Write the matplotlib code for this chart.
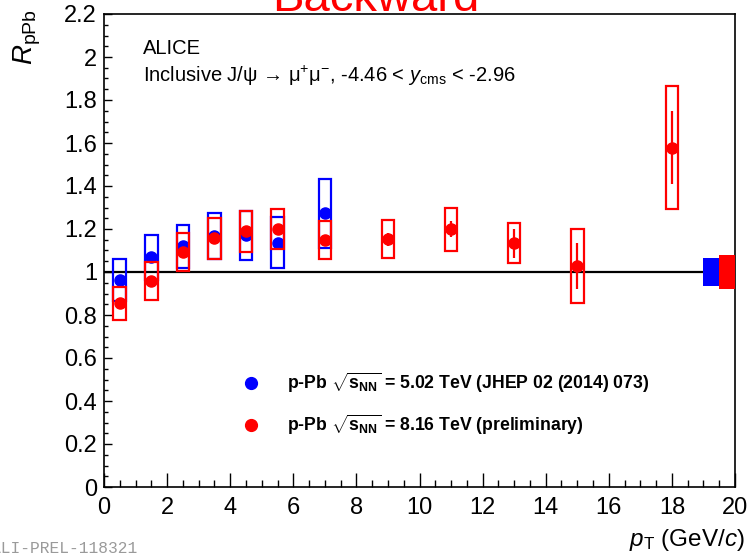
import numpy as np
import matplotlib
matplotlib.use('Agg')
import matplotlib.pyplot as plt
from matplotlib.patches import Rectangle
from matplotlib.ticker import MultipleLocator, FuncFormatter

plt.rcParams['font.family'] = ['Liberation Sans', 'DejaVu Sans']
plt.rcParams['mathtext.fontset'] = 'custom'
plt.rcParams['mathtext.rm'] = 'Liberation Sans'
plt.rcParams['mathtext.it'] = 'Liberation Sans:italic'
plt.rcParams['mathtext.bf'] = 'Liberation Sans:bold'

# p-Pb 5.02 TeV (JHEP 02 (2014) 073)
pt_502 = [0.5, 1.5, 2.5, 3.5, 4.5, 5.5, 7.0]
r_502 = [0.963, 1.068, 1.120, 1.167, 1.170, 1.137, 1.273]
stat_502 = [0.015, 0.02, 0.015, 0.015, 0.015, 0.02, 0.02]
sys_502 = [0.096, 0.103, 0.100, 0.107, 0.115, 0.120, 0.160]

# p-Pb 8.16 TeV (preliminary)
pt_816 = [0.5, 1.5, 2.5, 3.5, 4.5, 5.5, 7.0, 9.0, 11.0, 13.0, 15.0, 18.0]
r_816 = [0.854, 0.958, 1.094, 1.156, 1.190, 1.200, 1.149, 1.153, 1.200, 1.133, 1.029, 1.578]
stat_816 = [0.01, 0.015, 0.015, 0.015, 0.02, 0.02, 0.02, 0.03, 0.036, 0.067, 0.106, 0.17]
sys_816 = [0.076, 0.087, 0.088, 0.096, 0.095, 0.092, 0.087, 0.089, 0.100, 0.093, 0.172, 0.285]

# global uncertainties
glob_502 = 0.064
glob_816 = 0.08

box_half = 0.2
blue = '#0000ff'
red = '#ff0000'

fig = plt.figure(figsize=(7.51, 5.58), dpi=100)
ax = fig.add_axes([104 / 751, 1 - 487 / 558, 631 / 751, 473 / 558])

# unity line
ax.plot([0, 19], [1, 1], color='black', lw=1.6, zorder=2)


def draw_set(pt, r, stat, sys, color, z):
    for x, y, s in zip(pt, r, sys):
        ax.add_patch(Rectangle((x - box_half, y - s), 2 * box_half, 2 * s,
                               fill=False, edgecolor=color, lw=1.6, zorder=z))
    ax.errorbar(pt, r, yerr=stat, fmt='o', color=color, ms=8, lw=1.6,
                capsize=0, zorder=z + 1)


draw_set(pt_502, r_502, stat_502, sys_502, blue, 3)
draw_set(pt_816, r_816, stat_816, sys_816, red, 5)

# global boxes
ax.add_patch(Rectangle((19.0, 1 - glob_502), 0.5, 2 * glob_502,
                       facecolor=blue, edgecolor='none', zorder=7))
ax.add_patch(Rectangle((19.5, 1 - glob_816), 0.5, 2 * glob_816,
                       facecolor=red, edgecolor='none', zorder=7))

ax.set_xlim(0, 20)
ax.set_ylim(0, 2.2)
ax.xaxis.set_major_locator(MultipleLocator(2))
ax.xaxis.set_minor_locator(MultipleLocator(0.5))
ax.yaxis.set_major_locator(MultipleLocator(0.2))
ax.yaxis.set_minor_locator(MultipleLocator(0.05))
ax.yaxis.set_major_formatter(FuncFormatter(lambda v, p: '%g' % round(v, 2)))
ax.tick_params(axis='x', which='major', direction='in', length=10, width=1,
               labelsize=17, pad=7, top=False)
ax.tick_params(axis='x', which='minor', direction='in', length=5, width=1, top=False)
ax.tick_params(axis='y', which='major', direction='in', length=6, width=1,
               labelsize=17, pad=5, right=False)
ax.tick_params(axis='y', which='minor', direction='in', length=3, width=1, right=False)
for sp in ax.spines.values():
    sp.set_linewidth(1.2)

# texts
fig.text(143 / 751, 1 - 54 / 558, 'ALICE', fontsize=14.5, va='baseline')
fig.text(143 / 751, 1 - 82 / 558,
         'Inclusive J/ψ → μ$^{+}$μ$^{-}$, -4.46 < $y_{\\mathrm{cms}}$ < -2.96',
         fontsize=14.5, va='baseline')

# legend
ax.plot([4.65], [0.485], 'o', color=blue, ms=8.5, clip_on=False)
ax.plot([4.65], [0.29], 'o', color=red, ms=8.5, clip_on=False)
fig.text(287 / 751, 1 - 389 / 558,
         r'p-Pb $\sqrt{\mathbf{s}_{\mathbf{NN}}}$ = 5.02 TeV (JHEP 02 (2014) 073)',
         fontsize=12.7, fontweight='bold', va='baseline')
fig.text(287 / 751, 1 - 431 / 558,
         r'p-Pb $\sqrt{\mathbf{s}_{\mathbf{NN}}}$ = 8.16 TeV (preliminary)',
         fontsize=12.7, fontweight='bold', va='baseline')

# axis titles
fig.text(27 / 751, 1 - 9 / 558, r'$R_{\mathrm{pPb}}$', rotation=90,
         ha='center', va='top', fontsize=20)
fig.text(745 / 751, 1 - 546 / 558, r'$p_{\mathrm{T}}$ (GeV/$c$)',
         ha='right', va='baseline', fontsize=17.5)

# cut-off title and preliminary id
fig.text(0.5, 1 - 11 / 558, 'Backward', color=red, fontsize=34,
         ha='center', va='baseline')
fig.text(137 / 751, 1 - 553 / 558, 'ALI-PREL-118321', color='#9a9a9a',
         family=['Liberation Mono', 'DejaVu Sans Mono'], fontsize=11.7,
         ha='right', va='baseline')

fig.savefig('out.png', dpi=100)
